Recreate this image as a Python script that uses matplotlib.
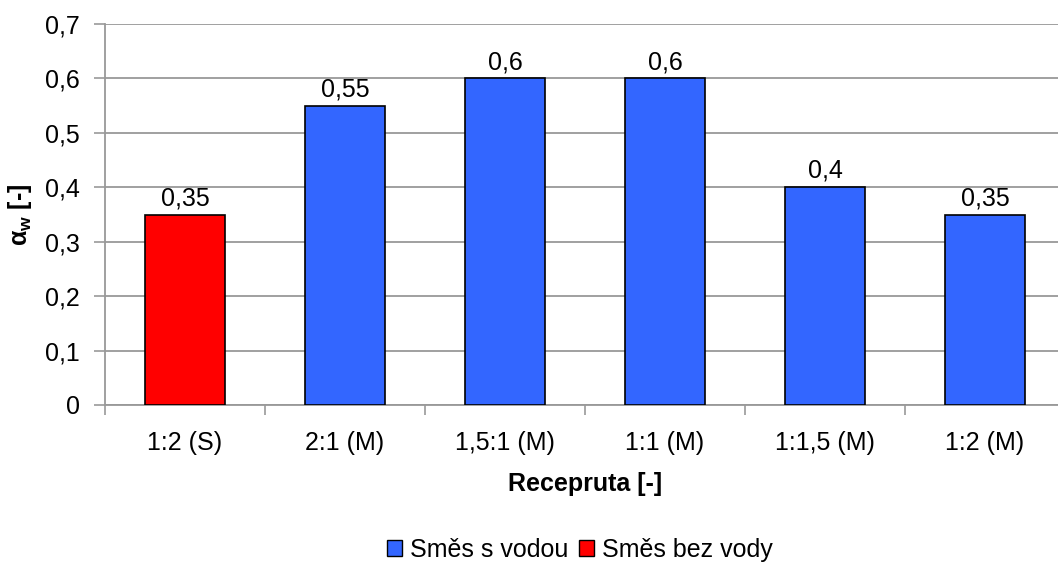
import matplotlib.pyplot as plt
import numpy as np

plt.rcParams['font.family'] = ['Liberation Sans', 'DejaVu Sans']
plt.rcParams['mathtext.fontset'] = 'custom'
plt.rcParams['mathtext.rm'] = 'Liberation Sans'
plt.rcParams['mathtext.bf'] = 'Liberation Sans:bold'

# --- DATA ---
categories = ['1:2 (S)', '2:1 (M)', '1,5:1 (M)', '1:1 (M)', '1:1,5 (M)', '1:2 (M)']
values = [0.35, 0.55, 0.6, 0.6, 0.4, 0.35]
with_water = [False, True, True, True, True, True]
series_names = ['Směs s vodou', 'Směs bez vody']

blue = '#3366FF'
red = '#FF0000'
grid_col = '#999999'
fs = 18

fig = plt.figure(figsize=(10.58, 5.62), dpi=100)
ax = fig.add_axes([105 / 1058, 1 - 405 / 562, 960 / 1058, 381 / 562])

x = np.arange(len(categories))
colors = [blue if w else red for w in with_water]
bars = ax.bar(x, values, width=0.5, color=colors, edgecolor='black', linewidth=1.2, zorder=3)

for b, v in zip(bars, values):
    lbl = f'{v:g}'.replace('.', ',')
    ax.text(b.get_x() + b.get_width() / 2, v + 0.008, lbl, ha='center', va='bottom', fontsize=fs)

ax.set_xlim(-0.5, len(categories) - 0.5)
ax.set_ylim(0, 0.7)
yt = np.arange(0, 0.71, 0.1).round(1)
ax.set_yticks(yt)
ax.set_yticklabels([f'{t:g}'.replace('.', ',') for t in yt], fontsize=fs)
ax.set_xticks(x)
ax.set_xticklabels(categories, fontsize=fs)
ax.set_xticks(np.arange(-0.5, len(categories)), minor=True)
ax.tick_params(axis='x', which='major', length=0, pad=19)
ax.tick_params(axis='x', which='minor', length=7, color=grid_col, width=1.2)
ax.tick_params(axis='y', length=8, color=grid_col, width=1.2, pad=10)

ax.grid(axis='y', color=grid_col, linewidth=1.3, zorder=0)
for s in ['top', 'right']:
    ax.spines[s].set_visible(False)
for s in ['left', 'bottom']:
    ax.spines[s].set_color(grid_col)
    ax.spines[s].set_linewidth(1.3)

ax.set_xlabel('Recepruta [-]', fontsize=18, fontweight='bold', labelpad=12)
ax.set_ylabel(r'α$_{\mathbf{w}}$ [-]', fontsize=18, fontweight='bold', labelpad=8)

handles = [plt.Rectangle((0, 0), 1, 1, facecolor=blue, edgecolor='black', linewidth=1),
           plt.Rectangle((0, 0), 1, 1, facecolor=red, edgecolor='black', linewidth=1)]
fig.legend(handles, series_names, loc='center', bbox_to_anchor=(580 / 1058, 1 - 550 / 562),
           ncol=2, frameon=False, fontsize=fs, handlelength=0.6, handleheight=0.6,
           handletextpad=0.3, columnspacing=0.45, borderpad=0)

fig.savefig('out.png', dpi=100)
